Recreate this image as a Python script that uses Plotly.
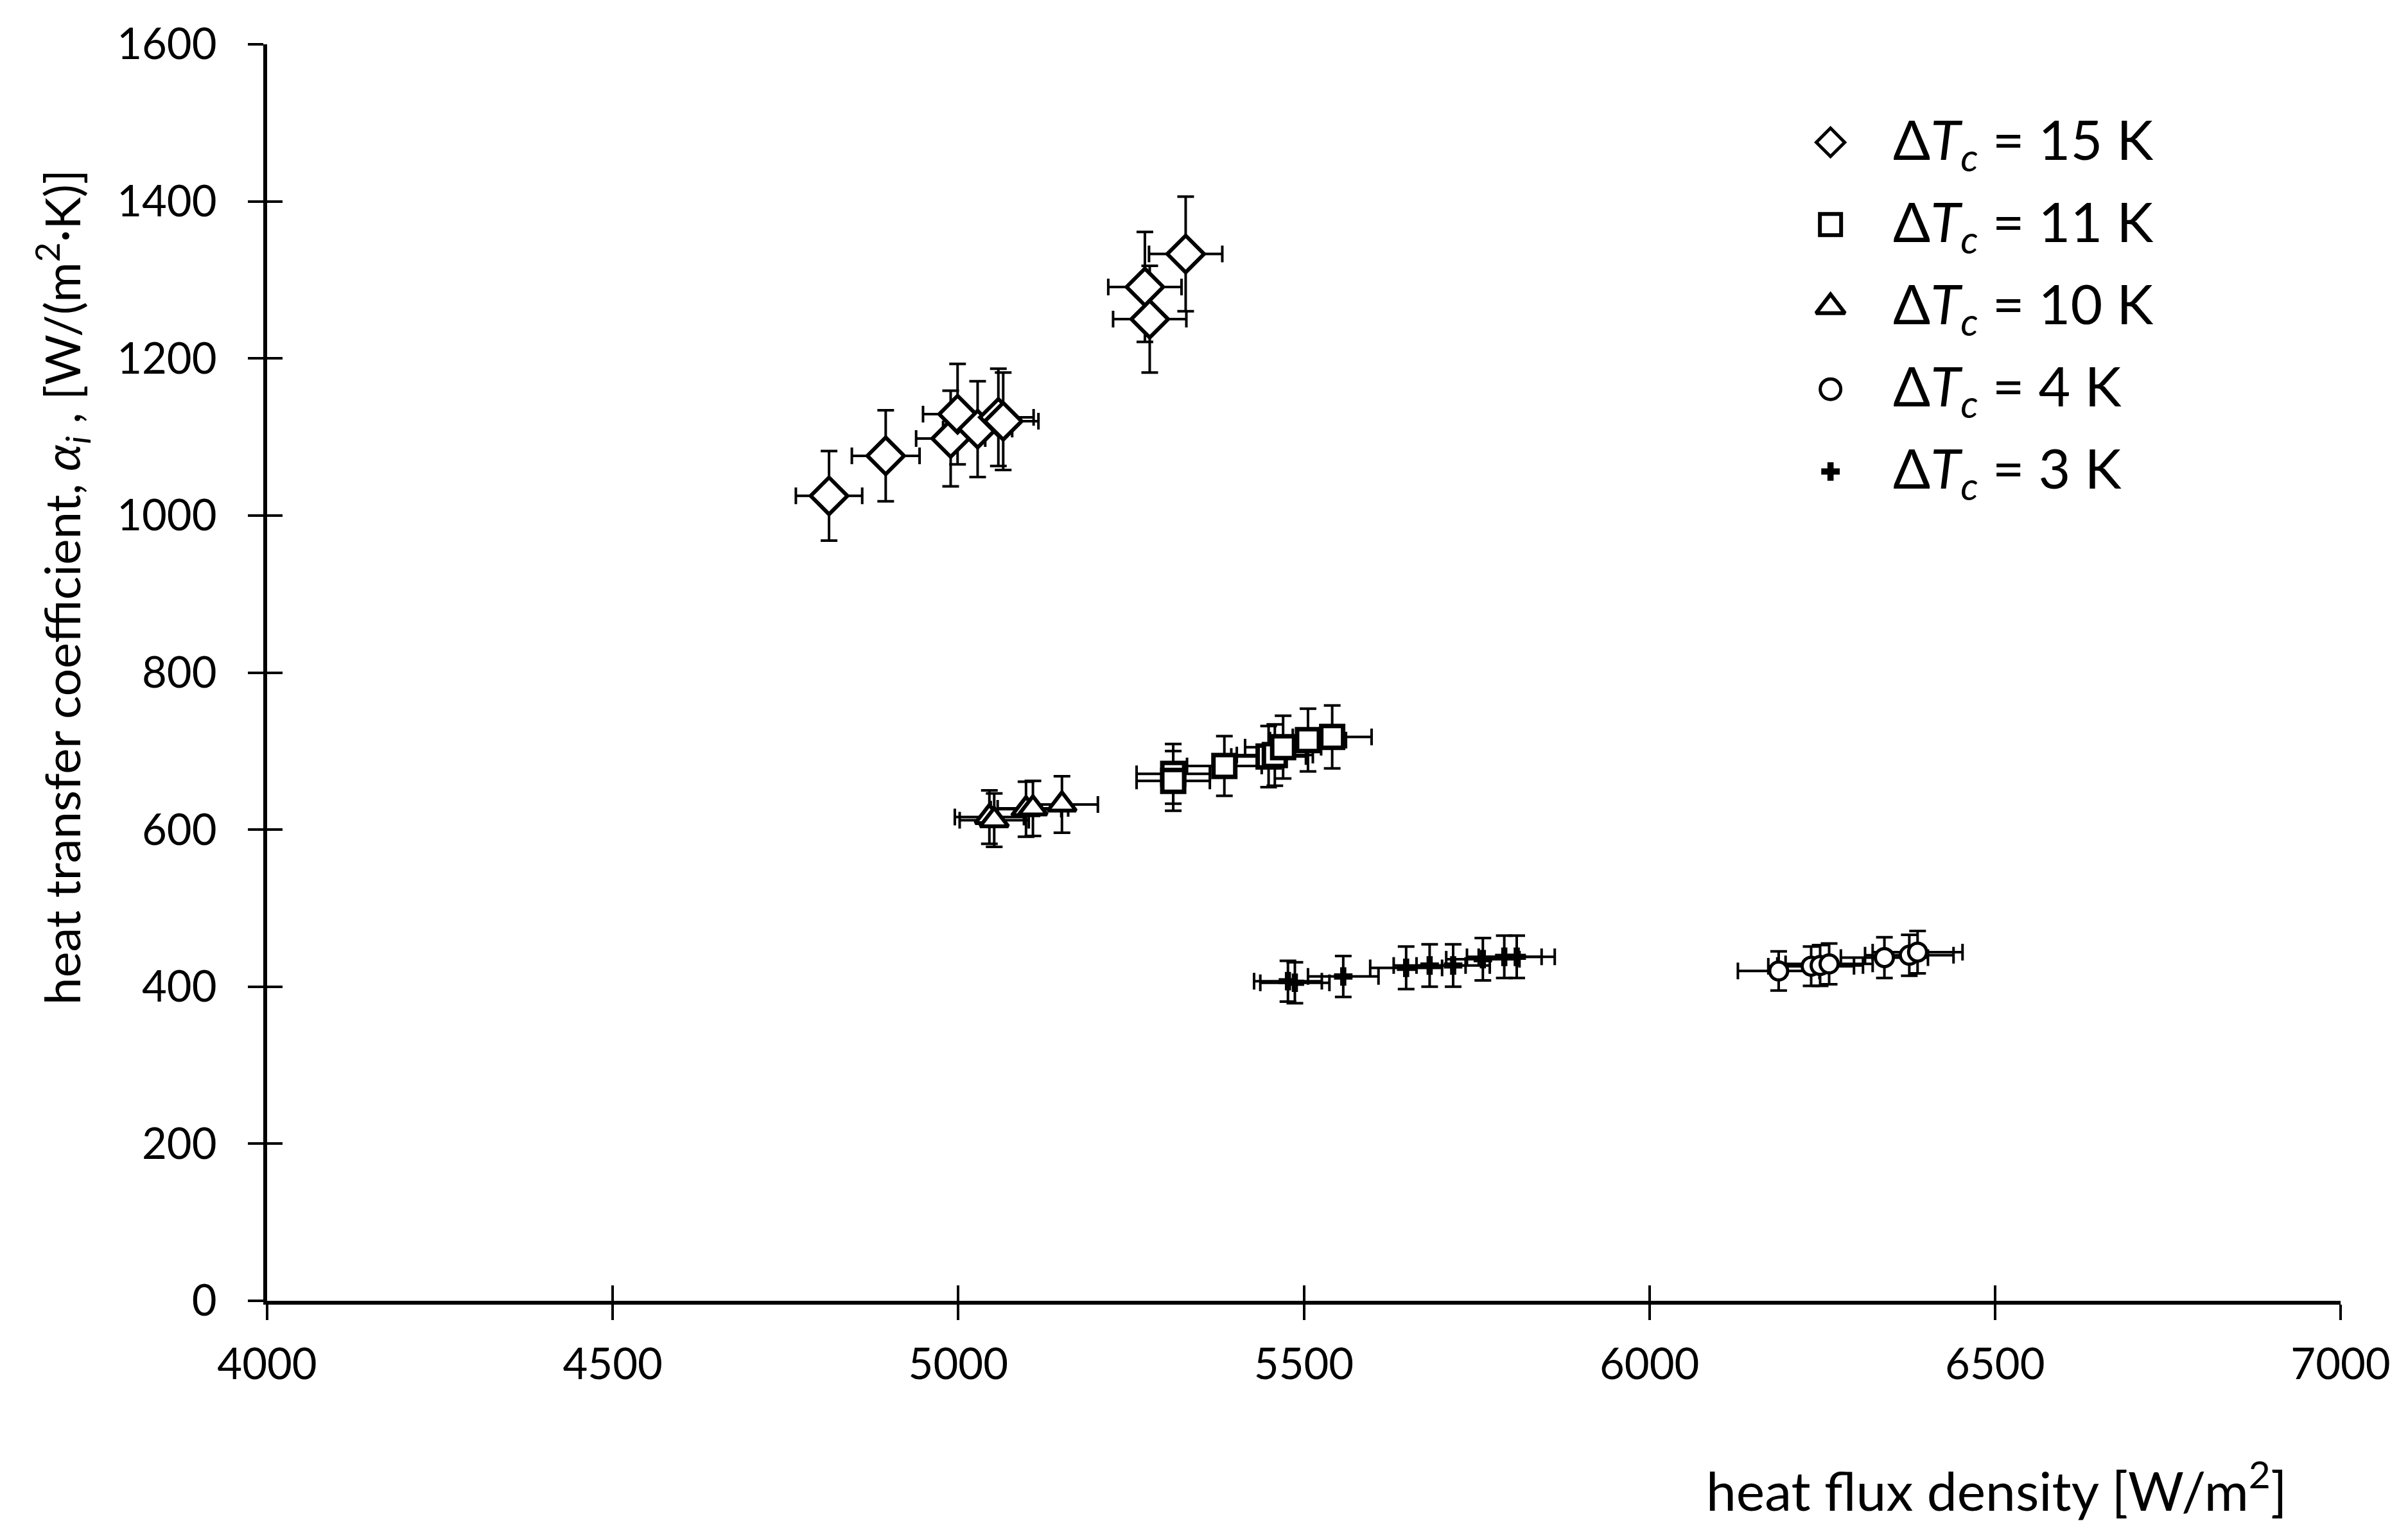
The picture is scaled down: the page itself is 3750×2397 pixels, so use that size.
import plotly.graph_objects as go

# ---------------- data ----------------
series_labels = ["15", "11", "10", "4", "3"]

x_15 = [4813, 4895, 4989, 4999, 5028, 5058, 5065, 5270, 5277, 5329]
y_15 = [1025, 1076, 1098, 1129, 1110, 1125, 1120, 1291, 1250, 1333]
ex_15 = [48, 49, 50, 50, 50, 51, 51, 53, 53, 53]
ey_15 = [57, 58, 61, 64, 61, 62, 62, 70, 68, 73]

x_11 = [5311, 5311, 5385, 5449, 5458, 5470, 5506, 5541]
y_11 = [671, 662, 681, 693, 695, 705, 714, 718]
ex_11 = [53, 53, 54, 54, 55, 55, 55, 57]
ey_11 = [38, 38, 38, 39, 39, 40, 40, 40]

x_10 = [5045, 5052, 5098, 5108, 5150]
y_10 = [616, 612, 626, 627, 632]
ex_10 = [50, 50, 51, 51, 52]
ey_10 = [34, 34, 35, 35, 36]

x_4 = [6187, 6234, 6247, 6260, 6340, 6376, 6388]
y_4 = [420, 426, 427, 429, 437, 440, 444]
ex_4 = [59, 62, 62, 63, 63, 64, 65]
ey_4 = [25, 25, 26, 26, 26, 26, 27]

x_3 = [5477, 5487, 5557, 5648, 5682, 5716, 5759, 5790, 5808]
y_3 = [407, 405, 413, 424, 427, 427, 435, 438, 438]
ex_3 = [49, 50, 51, 52, 52, 53, 53, 54, 55]
ey_3 = [26, 26, 26, 27, 27, 27, 27, 27, 27]

x_ticks = [4000, 4500, 5000, 5500, 6000, 6500, 7000]
y_ticks = [0, 200, 400, 600, 800, 1000, 1200, 1400, 1600]

# ---------------- styles ----------------
FONT = "Lato, 'Open Sans', sans-serif"
W, H = 3750, 2397
ML, MR, MT, MB = 416, 105, 69, 371
PW, PH = W - ML - MR, H - MT - MB

styles = [
    dict(symbol="diamond", size=44, lw=6, fill="white", leg_size=34, leg_lw=5),
    dict(symbol="square", size=34, lw=7, fill="white", leg_size=33, leg_lw=6),
    dict(symbol="triangle-up", size=38, lw=6, fill="white", leg_size=39, leg_lw=6),
    dict(symbol="circle", size=28, lw=5, fill="white", leg_size=32, leg_lw=5),
    dict(symbol="cross", size=24, lw=0, fill="black", leg_size=24, leg_lw=0),
]
data = [
    (x_15, y_15, ex_15, ey_15),
    (x_11, y_11, ex_11, ey_11),
    (x_10, y_10, ex_10, ey_10),
    (x_4, y_4, ex_4, ey_4),
    (x_3, y_3, ex_3, ey_3),
]

fig = go.Figure()

for (xs, ys, exs, eys), st, lab in zip(data, styles, series_labels):
    fig.add_trace(go.Scatter(
        x=xs, y=ys, mode="markers", showlegend=False,
        name=f"ΔTc = {lab} K",
        marker=dict(symbol=st["symbol"], size=st["size"], color=st["fill"],
                    line=dict(color="black", width=st["lw"])),
        error_x=dict(type="data", array=exs, color="black", thickness=4, width=13),
        error_y=dict(type="data", array=eys, color="black", thickness=4, width=13),
    ))

# empty trace on overlay axes that provide the inner half of crossing ticks
fig.add_trace(go.Scatter(x=[], y=[], xaxis="x3", yaxis="y3", showlegend=False))

# ---------------- custom legend (helper axes 0..1) ----------------
LEG_X = 0.754
LEG_TEXT_X = 0.7835
LEG_TOP = 0.922
LEG_STEP = 0.0655
for i, (st, lab) in enumerate(zip(styles, series_labels)):
    ly = LEG_TOP - i * LEG_STEP
    fig.add_trace(go.Scatter(
        x=[LEG_X], y=[ly], xaxis="x2", yaxis="y2", mode="markers", showlegend=False,
        hoverinfo="skip",
        marker=dict(symbol=st["symbol"], size=st["leg_size"], color=st["fill"],
                    line=dict(color="black", width=st["leg_lw"])),
    ))
    fig.add_annotation(
        x=LEG_TEXT_X, y=ly, xref="x2", yref="y2", xanchor="left", yanchor="middle",
        text=f"Δ<i>T<sub>c</sub></i> = {lab} K", showarrow=False,
        font=dict(family=FONT, size=86, color="black"),
    )

# ---------------- axis titles ----------------
fig.add_annotation(
    x=(96 - ML) / PW, y=(H - MB - 915) / PH,
    xref="paper", yref="paper", textangle=-90, xanchor="center", yanchor="middle",
    text="heat transfer coefficient, <i>α<sub>i</sub></i> , [W/(m<sup>2</sup>·K)]",
    showarrow=False, font=dict(family=FONT, size=76, color="black"),
)
fig.add_annotation(
    x=(3109 - ML) / PW, y=(H - MB - 2315) / PH,
    xref="paper", yref="paper", xanchor="center", yanchor="middle",
    text="heat flux density [W/m<sup>2</sup>]",
    showarrow=False, font=dict(family=FONT, size=84, color="black"),
)

axis_common = dict(showgrid=False, zeroline=False, tickcolor="black", tickwidth=3.5, ticklen=24)

fig.update_layout(
    width=W, height=H,
    margin=dict(l=ML, r=MR, t=MT, b=MB, pad=0),
    paper_bgcolor="white", plot_bgcolor="white",
    font=dict(family=FONT, color="black"),
    xaxis=dict(range=[x_ticks[0], x_ticks[-1]], tickvals=x_ticks, ticks="outside",
               showline=True, linecolor="black", linewidth=6,
               tickfont=dict(family=FONT, size=67, color="black"),
               ticklabelstandoff=12, **axis_common),
    yaxis=dict(range=[y_ticks[0], y_ticks[-1]], tickvals=y_ticks, ticks="outside",
               showline=True, linecolor="black", linewidth=6,
               tickfont=dict(family=FONT, size=67, color="black"),
               ticklabelstandoff=35, **axis_common),
    xaxis3=dict(range=[x_ticks[0], x_ticks[-1]], tickvals=x_ticks, ticks="inside",
                overlaying="x", anchor="y3", showticklabels=False, showline=False,
                **axis_common),
    yaxis3=dict(range=[y_ticks[0], y_ticks[-1]], tickvals=y_ticks, ticks="inside",
                overlaying="y", anchor="x3", showticklabels=False, showline=False,
                **axis_common),
    xaxis2=dict(range=[0, 1], overlaying="x", anchor="y2", visible=False),
    yaxis2=dict(range=[0, 1], overlaying="y", anchor="x2", visible=False),
    showlegend=False,
)

fig.write_html(
    "out.html",
    config={"displayModeBar": False},
    post_script="document.body.style.margin='0px';document.body.style.padding='0px';",
)
